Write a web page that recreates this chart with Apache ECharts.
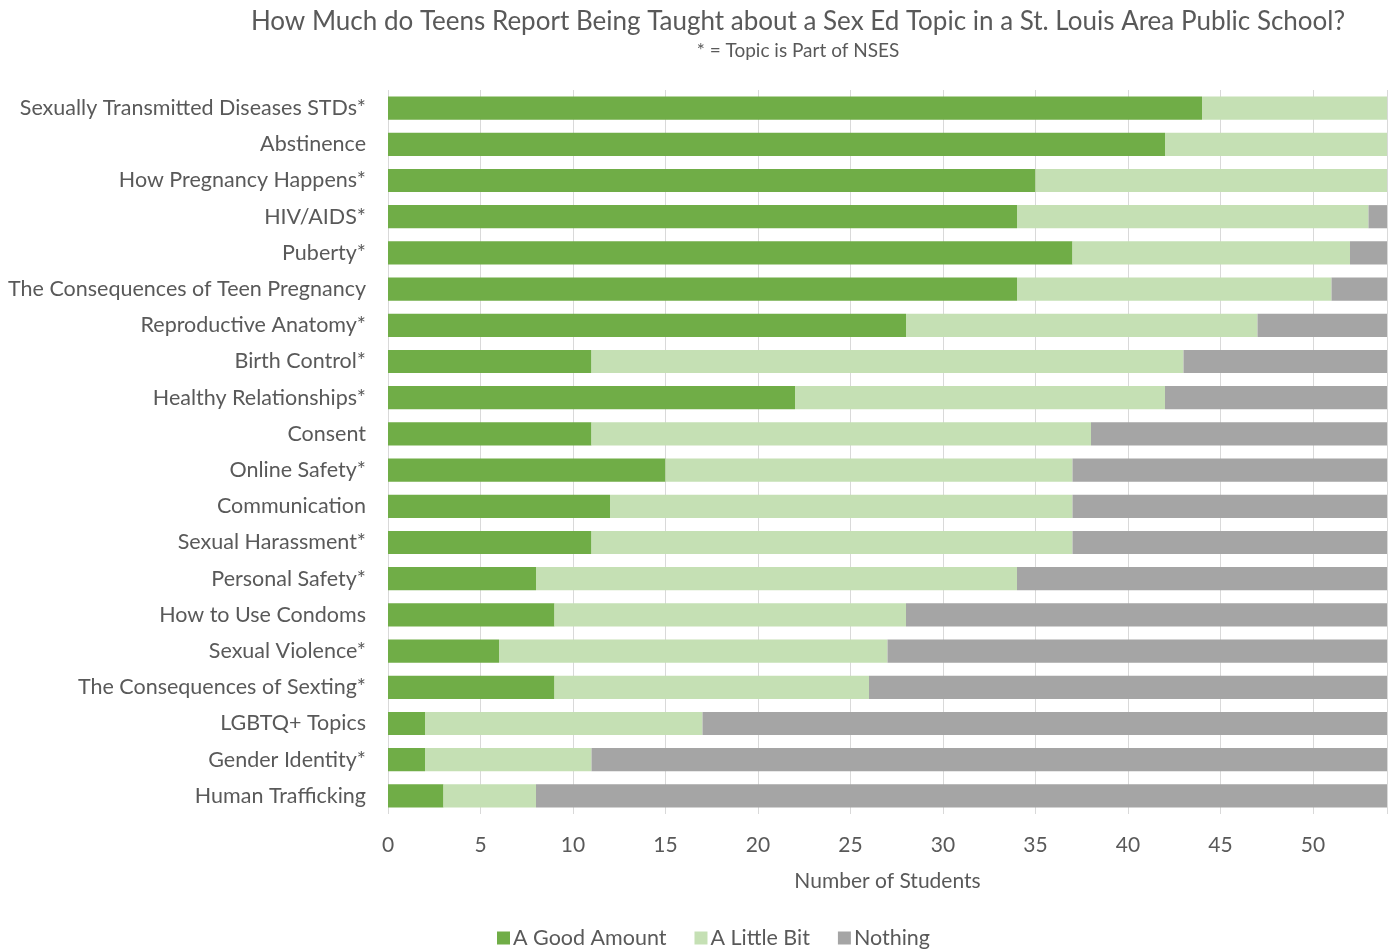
<!DOCTYPE html>
<html>
<head>
<meta charset="utf-8">
<script src="https://cdn.jsdelivr.net/npm/echarts@6/dist/echarts.min.js"></script>
<style>
  html, body { margin: 0; padding: 0; background: #fff; }
  #chart { width: 1390px; height: 950px; }
</style>
</head>
<body>
<div id="chart"></div>
<script>
// Sex-ed topics, top to bottom
const topics = [
  'Sexually Transmitted Diseases STDs*',
  'Abstinence',
  'How Pregnancy Happens*',
  'HIV/AIDS*',
  'Puberty*',
  'The Consequences of Teen Pregnancy',
  'Reproductive Anatomy*',
  'Birth Control*',
  'Healthy Relationships*',
  'Consent',
  'Online Safety*',
  'Communication',
  'Sexual Harassment*',
  'Personal Safety*',
  'How to Use Condoms',
  'Sexual Violence*',
  'The Consequences of Sexting*',
  'LGBTQ+ Topics',
  'Gender Identity*',
  'Human Trafficking'
];

// Number of students per response
const goodAmount = [44, 42, 35, 34, 37, 34, 28, 11, 22, 11, 15, 12, 11, 8, 9, 6, 9, 2, 2, 3];
const littleBit  = [10, 12, 19, 19, 15, 17, 19, 32, 20, 27, 22, 25, 26, 26, 19, 21, 17, 15, 9, 5];
const nothing    = [0, 0, 0, 1, 2, 3, 7, 11, 12, 16, 17, 17, 17, 20, 26, 27, 28, 37, 43, 46];

const seriesNames = ['A Good Amount', 'A Little Bit', 'Nothing'];
const seriesColors = ['#70AD47', '#C5E0B4', '#A5A5A5'];

const FONT = 'Lato';
const TEXT = '#595959';

const chart = echarts.init(document.getElementById('chart'), null, { renderer: 'canvas' });

const seriesData = [goodAmount, littleBit, nothing];

chart.setOption({
  backgroundColor: '#ffffff',
  animation: false,
  textStyle: { fontFamily: FONT, color: TEXT },
  title: {
    text: 'How Much do Teens Report Being Taught about a Sex Ed Topic in a St. Louis Area Public School?',
    subtext: '* = Topic is Part of NSES',
    left: 793,
    top: 4,
    textAlign: 'center',
    itemGap: 6,
    textStyle: { fontFamily: FONT, fontSize: 26, fontWeight: 'normal', color: TEXT },
    subtextStyle: { fontFamily: FONT, fontSize: 19, color: TEXT }
  },
  legend: {
    bottom: -4,
    left: 492,
    itemWidth: 13,
    itemHeight: 13,
    itemGap: 28,
    icon: 'rect',
    textStyle: { fontFamily: FONT, fontSize: 21.5, color: TEXT, padding: [0, 0, 0, -2] },
    data: seriesNames
  },
  grid: {
    left: 388,
    right: 3,
    top: 90,
    bottom: 136,
    containLabel: false
  },
  xAxis: {
    type: 'value',
    min: 0,
    max: 54,
    interval: 5,
    name: 'Number of Students',
    nameLocation: 'middle',
    nameGap: 57,
    nameTextStyle: { fontFamily: FONT, fontSize: 21, color: TEXT },
    axisLine: { show: false },
    axisTick: { show: false },
    axisLabel: {
      fontFamily: FONT, fontSize: 21, color: TEXT, margin: 21,
      showMaxLabel: false
    },
    splitLine: { show: true, lineStyle: { color: '#D9D9D9', width: 1 } }
  },
  yAxis: {
    type: 'category',
    inverse: true,
    data: topics,
    axisLine: { show: false },
    axisTick: { show: false },
    axisLabel: { fontFamily: FONT, fontSize: 21.5, color: TEXT, margin: 22 }
  },
  series: seriesNames.map((name, i) => ({
    name: name,
    type: 'bar',
    stack: 'total',
    barCategoryGap: '36%',
    itemStyle: { color: seriesColors[i] },
    emphasis: { disabled: true },
    data: seriesData[i]
  }))
});
</script>
</body>
</html>
